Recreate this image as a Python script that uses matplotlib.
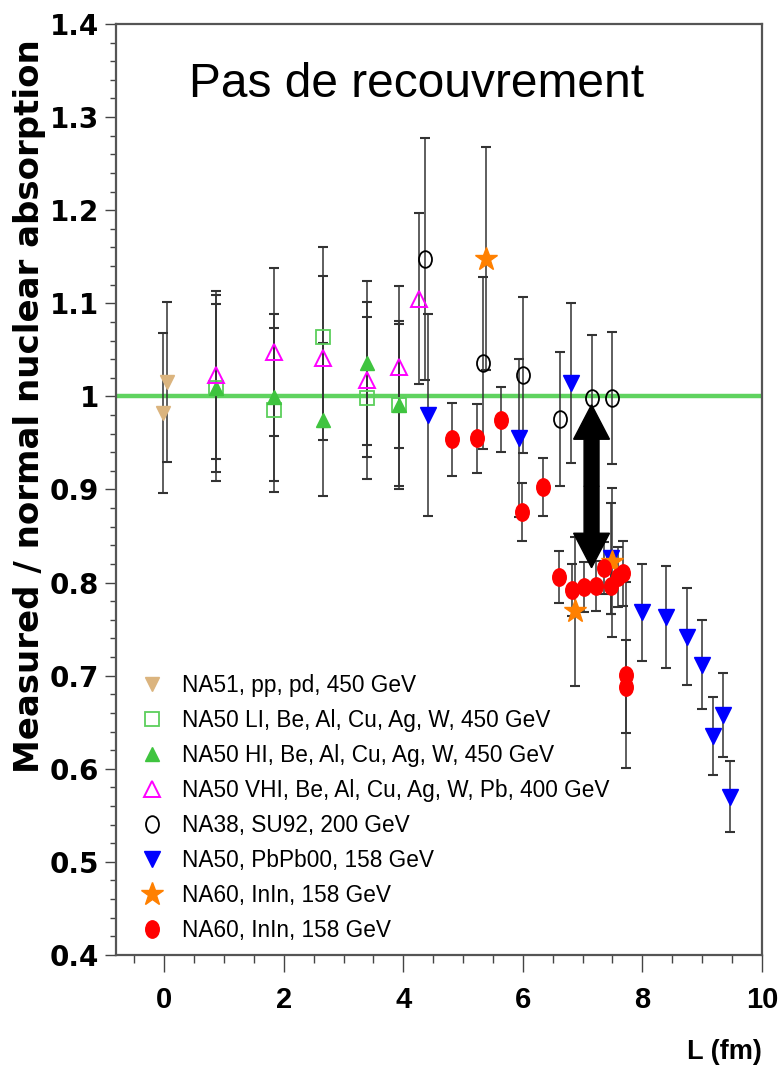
import matplotlib
matplotlib.use('Agg')
import matplotlib.pyplot as plt
from matplotlib.lines import Line2D
from matplotlib.path import Path
from matplotlib.transforms import Affine2D
from matplotlib.ticker import FixedLocator, MultipleLocator

# NA51, pp, pd
na51_L = [0.05, -0.02]
na51_R = [1.015, 0.982]
na51_E = [0.086, 0.086]

# NA50 LI
li_L = [0.86, 1.84, 2.65, 3.40, 3.92]
li_R = [1.009, 0.985, 1.064, 0.998, 0.991]
li_E = [0.100, 0.088, 0.097, 0.087, 0.087]

# NA50 HI
hi_L = [0.86, 1.84, 2.65, 3.40, 3.92]
hi_R = [1.009, 0.999, 0.975, 1.036, 0.991]
hi_E = [0.090, 0.090, 0.082, 0.088, 0.090]

# NA50 VHI
vhi_L = [0.86, 1.84, 2.65, 3.40, 3.92, 4.26]
vhi_R = [1.023, 1.048, 1.041, 1.018, 1.032, 1.105]
vhi_E = [0.090, 0.090, 0.088, 0.083, 0.087, 0.092]

# NA38 S-U
na38_L = [4.36, 5.33, 6.01, 6.63, 7.15, 7.50]
na38_R = [1.148, 1.036, 1.023, 0.976, 0.998, 0.998]
na38_E = [0.130, 0.092, 0.084, 0.072, 0.068, 0.071]

# NA50 Pb-Pb 2000
pb_L = [4.42, 5.93, 6.81, 7.48, 8.00, 8.40, 8.74, 9.00, 9.19, 9.35, 9.46]
pb_R = [0.980, 0.955, 1.014, 0.826, 0.768, 0.763, 0.742, 0.712, 0.635, 0.658, 0.570]
pb_E = [0.108, 0.085, 0.086, 0.060, 0.052, 0.055, 0.052, 0.048, 0.042, 0.045, 0.038]

# NA60 In-In (stars)
star_L = [5.39, 6.88, 7.50]
star_R = [1.148, 0.769, 0.822]
star_E = [0.120, 0.080, 0.080]

# NA60 In-In (circles)
inin_L = [4.81, 5.23, 5.64, 5.99, 6.33, 6.60, 6.83, 7.03, 7.22, 7.35, 7.47, 7.59, 7.68, 7.72, 7.72]
inin_R = [0.954, 0.955, 0.975, 0.876, 0.903, 0.806, 0.792, 0.795, 0.796, 0.816, 0.796, 0.806, 0.810, 0.701, 0.688]
inin_E = [0.039, 0.037, 0.035, 0.031, 0.031, 0.028, 0.028, 0.027, 0.027, 0.028, 0.030, 0.032, 0.035, 0.100, 0.050]

ytick_vals = [0.4, 0.5, 0.6, 0.7, 0.8, 0.9, 1.0, 1.1, 1.2, 1.3, 1.4]
ytick_text = ['0.4', '0.5', '0.6', '0.7', '0.8', '0.9', '1', '1.1', '1.2', '1.3', '1.4']
xtick_vals = [0, 2, 4, 6, 8, 10]

labels = ['NA51, pp, pd, 450 GeV',
          'NA50 LI, Be, Al, Cu, Ag, W, 450 GeV',
          'NA50 HI, Be, Al, Cu, Ag, W, 450 GeV',
          'NA50 VHI, Be, Al, Cu, Ag, W, Pb, 400 GeV',
          'NA38, SU92, 200 GeV',
          'NA50, PbPb00, 158 GeV',
          'NA60, InIn, 158 GeV',
          'NA60, InIn, 158 GeV']

# arrow showing the gap between the two data sets
gap_L = 7.15
gap_top = 0.991
gap_bot = 0.816

# slightly tall ellipse for the round markers
ellipse = Path.unit_circle().transformed(Affine2D().scale(0.78, 1.0))

fig = plt.figure(figsize=(7.83, 10.77), dpi=100)
ax = fig.add_axes([0.148, 0.1133, 0.825, 0.8644])

ax.axhline(1.0, color='#5fd35f', lw=3.2, zorder=2)

styles = [
    (na51_L, na51_R, na51_E, dict(marker='v', ms=10, mfc='#dbb47e', mec='#dbb47e')),
    (li_L, li_R, li_E, dict(marker='s', ms=9.5, mfc='none', mec='#5ccf5c', mew=1.3)),
    (hi_L, hi_R, hi_E, dict(marker='^', ms=10, mfc='#3fc43f', mec='#3fc43f')),
    (vhi_L, vhi_R, vhi_E, dict(marker='^', ms=11, mfc='none', mec='#ff00ff', mew=1.4)),
    (na38_L, na38_R, na38_E, dict(marker=ellipse, ms=12, mfc='none', mec='black', mew=1.3)),
    (pb_L, pb_R, pb_E, dict(marker='v', ms=11, mfc='#0000ff', mec='#0000ff')),
    (star_L, star_R, star_E, dict(marker='*', ms=17, mfc='#ff8000', mec='#ff8000')),
    (inin_L, inin_R, inin_E, dict(marker=ellipse, ms=12.5, mfc='#ff0000', mec='#ff0000')),
]

handles = []
for i, (L, R, E, st) in enumerate(styles):
    ax.errorbar(L, R, yerr=E, fmt='none', ecolor='#333333', elinewidth=1.1,
                capsize=3.5, capthick=1.5, zorder=3)
    ax.plot(L, R, ls='none', zorder=4 + i * 0.1, **st)
    handles.append(Line2D([], [], ls='none', **st))

mid = (gap_top + gap_bot) / 2
for end in (gap_top, gap_bot):
    ax.arrow(gap_L, mid, 0, end - mid, width=0.25, head_width=0.6, head_length=0.037,
             length_includes_head=True, color='black', zorder=6)

ax.set_xlim(-0.81, 10)
ax.set_ylim(0.4, 1.4)

ax.yaxis.set_major_locator(FixedLocator(ytick_vals))
ax.set_yticklabels(ytick_text)
ax.yaxis.set_minor_locator(MultipleLocator(0.02))
ax.xaxis.set_major_locator(FixedLocator(xtick_vals))
ax.xaxis.set_minor_locator(MultipleLocator(0.5))

ax.tick_params(axis='y', which='major', length=8, width=1, direction='out', pad=4, color='#444444')
ax.tick_params(axis='y', which='minor', length=4, width=1, direction='out', color='#444444')
ax.tick_params(axis='x', which='major', length=12, width=1, direction='out', pad=10, color='#444444')
ax.tick_params(axis='x', which='minor', length=6, width=1, direction='out', color='#444444')

for lbl in ax.get_yticklabels():
    lbl.set_fontfamily('DejaVu Sans')
    lbl.set_fontweight('bold')
    lbl.set_fontsize(20)
for lbl in ax.get_xticklabels():
    lbl.set_fontfamily('Liberation Sans')
    lbl.set_fontweight('bold')
    lbl.set_fontsize(21)

for s in ax.spines.values():
    s.set_color('#555555')
    s.set_linewidth(1.6)

ax.set_ylabel('Measured / normal nuclear absorption', fontfamily='DejaVu Sans',
              fontweight='bold', fontsize=24.5, rotation=90, ha='center', va='center')
ax.yaxis.set_label_coords(-0.134, 0.59)

ax.text(1.0, -0.104, 'L (fm)', transform=ax.transAxes, ha='right', va='center',
        fontfamily='Liberation Sans', fontweight='bold', fontsize=19.5)

ax.text(0.466, 0.9216, 'Pas de recouvrement', transform=ax.transAxes,
        ha='center', va='baseline', fontfamily='Liberation Sans', fontsize=34.5)

ax.legend(handles, labels, loc='upper left', bbox_to_anchor=(0.0382, 0.302),
          frameon=False, prop={'family': 'Liberation Sans', 'size': 16.3},
          handlelength=1.0, handletextpad=0.83, labelspacing=0.53,
          borderpad=0, borderaxespad=0, numpoints=1)

fig.savefig('out.png', dpi=100)
